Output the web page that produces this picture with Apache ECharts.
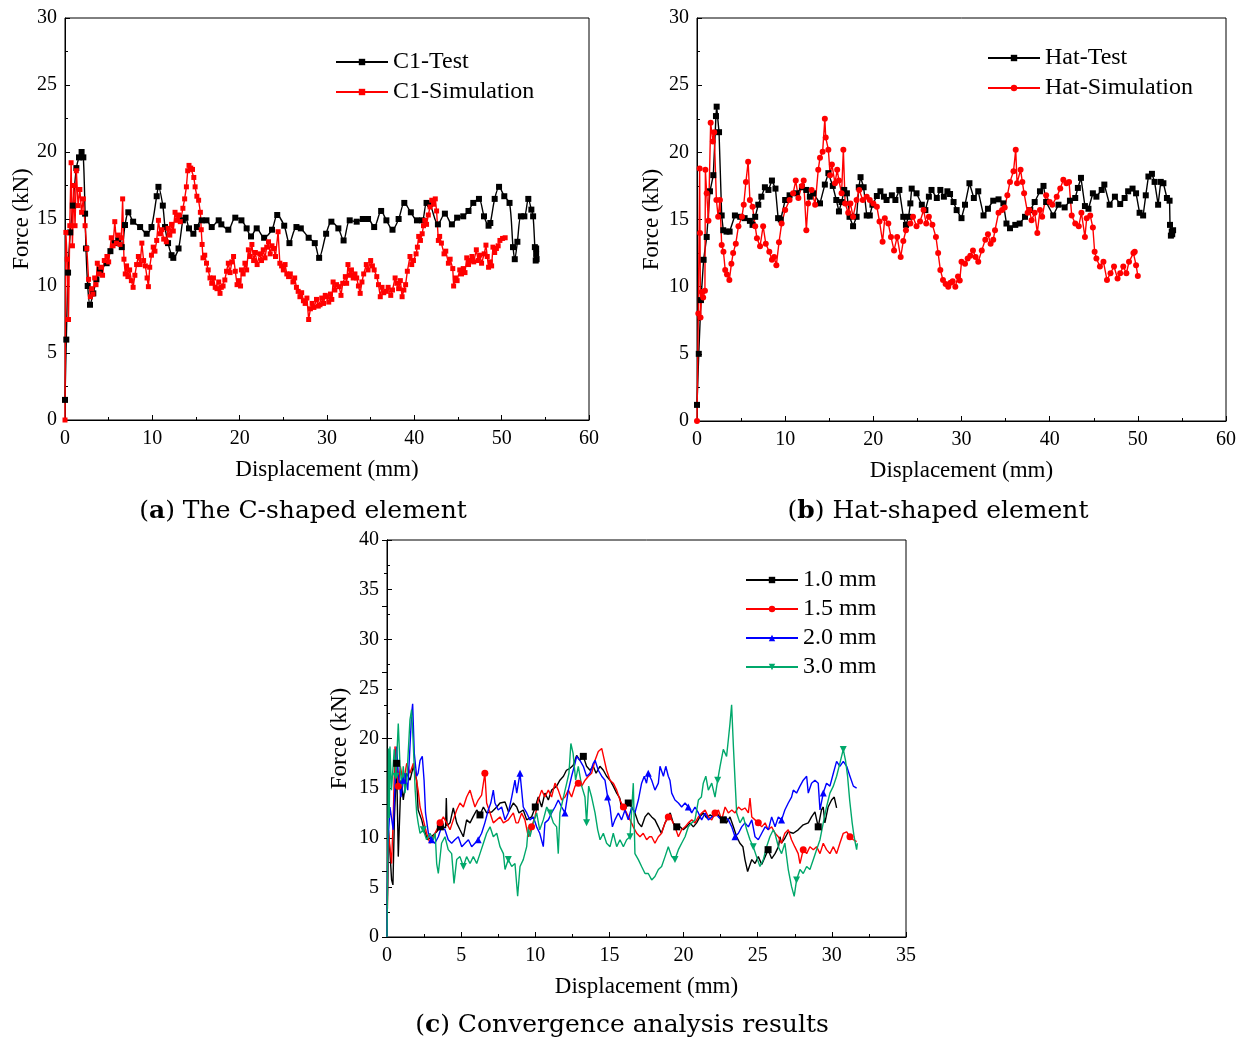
<!DOCTYPE html>
<html>
<head>
<meta charset="utf-8">
<script src="https://cdn.jsdelivr.net/npm/echarts@6/dist/echarts.min.js"></script>
<style>
  html, body { margin: 0; padding: 0; background: #fff; }
  #chart { width: 1245px; height: 1043px; }
</style>
</head>
<body>
<div id="chart"></div>
<script>
// ---- (a) C-shaped element: displacement (mm) vs force (kN)
const c1Test = [[0,1.5],[0.15,6],[0.35,11],[0.6,14],[0.9,16],[1.3,18.8],[1.6,19.6],[1.9,20],[2.1,19.6],[2.3,15.4],[2.4,12.8],[2.6,10],[2.86,8.6],[3.24,9.45],[3.6,10.5],[4.0,11.2],[4.77,11.7],[5.2,12.6],[5.7,13.2],[6.1,13.4],[6.5,12.9],[6.87,14.55],[7.25,15.5],[7.8,14.8],[8.6,14.4],[9.35,13.9],[9.9,14.4],[10.5,16.7],[10.7,17.4],[11.2,16.0],[11.45,14.4],[11.8,13.2],[12.2,12.3],[12.4,12.1],[13.0,12.8],[13.5,14.9],[13.8,15.1],[14.2,14.3],[14.7,13.9],[15.1,14.4],[15.65,14.9],[16.2,14.9],[16.8,14.4],[17.6,14.9],[17.9,14.6],[18.7,14.2],[19.5,15.1],[20.2,14.9],[20.8,14.3],[21.3,13.7],[21.95,14.3],[22.8,13.6],[23.7,14.2],[24.3,15.3],[25.1,14.5],[25.7,13.2],[26.5,14.4],[27.0,14.3],[27.9,13.6],[28.6,13.2],[29.1,12.1],[29.9,13.9],[30.5,14.8],[31.3,14.3],[31.9,13.4],[32.6,14.9],[33.4,14.8],[34.1,15.0],[34.7,15.0],[35.4,14.4],[36.2,15.6],[36.8,14.9],[37.5,14.2],[38.2,15.0],[38.85,16.2],[39.6,15.5],[40.3,14.9],[40.9,14.9],[41.4,16.2],[41.8,16.1],[42.7,14.6],[43.5,15.4],[44.3,14.6],[44.9,15.1],[45.6,15.2],[46.2,15.6],[46.75,16.2],[47.4,16.5],[47.98,15.2],[48.5,14.5],[48.7,14.7],[49.2,16.5],[49.7,17.4],[50.3,16.7],[50.9,16.2],[51.3,12.9],[51.5,12.0],[51.8,13.3],[52.2,15.2],[52.6,15.2],[53.05,16.5],[53.4,15.7],[53.6,15.2],[53.8,12.9],[53.9,11.9],[53.95,12.4],[54.0,12.0],[53.95,12.8]];

const c1Sim = [[0,0],[0.1,14],[0.25,12],[0.4,7.5],[0.55,14.5],[0.7,19.2],[0.85,13],[1.0,17.5],[1.15,14.5],[1.3,18.6],[1.5,16],[1.7,17.2],[1.9,15.5],[2.1,16.5],[2.3,14.5],[2.5,12.8],[2.7,10.5],[2.9,9.2],[3.05,9.8],[3.2,9.4],[3.4,10.6],[3.55,10.1],[3.7,11.7],[3.9,10.9],[4.1,11.4],[4.3,10.8],[4.5,11.9],[4.8,12.2],[5.0,11.8],[5.3,13.6],[5.5,13.0],[5.7,14.8],[5.9,13.2],[6.1,13.8],[6.3,13.1],[6.45,13.6],[6.6,16.5],[6.75,12.0],[6.9,10.9],[7.05,11.5],[7.2,10.7],[7.4,11.2],[7.6,10.4],[7.8,9.9],[8.0,10.8],[8.2,11.6],[8.4,12.2],[8.6,11.6],[8.8,13.2],[9.0,11.9],[9.2,11.5],[9.4,10.6],[9.55,9.95],[9.7,11.4],[9.9,12.3],[10.1,12.9],[10.3,12.6],[10.5,13.4],[10.7,14.9],[10.9,13.9],[11.1,14.2],[11.3,13.5],[11.6,13.3],[11.8,14.3],[12.0,13.8],[12.2,14.6],[12.4,14.1],[12.6,15.5],[12.8,14.9],[13.0,15.3],[13.2,14.8],[13.5,15.8],[13.7,16.5],[13.9,17.4],[14.05,18.6],[14.2,19.0],[14.4,18.8],[14.6,18.7],[14.75,18.1],[14.9,17.4],[15.1,16.7],[15.3,16.4],[15.5,15.5],[15.6,14.2],[15.7,13.1],[15.8,12.1],[16.0,12.3],[16.2,11.7],[16.4,11.2],[16.6,10.6],[16.8,10.2],[17.0,10.6],[17.2,9.9],[17.4,9.8],[17.6,10.3],[17.75,9.45],[17.9,9.9],[18.1,10.0],[18.3,10.45],[18.5,11.1],[18.7,11.7],[18.9,11.0],[19.1,11.8],[19.3,12.2],[19.5,11.1],[19.7,10.1],[19.9,10.4],[20.1,10.0],[20.2,11.2],[20.4,10.9],[20.6,11.7],[20.8,11.2],[21.0,12.7],[21.2,12.2],[21.4,13.1],[21.6,11.9],[21.8,12.5],[22.0,11.6],[22.3,12.4],[22.5,11.9],[22.7,12.7],[22.9,12.1],[23.1,12.9],[23.3,13.3],[23.5,12.4],[23.7,13.0],[23.9,12.8],[24.1,12.2],[24.4,14.05],[24.6,11.7],[24.8,11.5],[25.0,11.2],[25.2,11.6],[25.4,10.9],[25.6,10.7],[25.8,10.9],[26.1,10.3],[26.3,10.6],[26.5,9.9],[26.7,9.6],[26.9,9.2],[27.1,9.5],[27.3,8.9],[27.5,8.7],[27.7,9.1],[27.9,7.5],[28.1,8.3],[28.3,8.7],[28.5,8.4],[28.8,9.0],[29.0,8.5],[29.2,8.6],[29.4,9.1],[29.6,8.7],[29.8,9.3],[30.0,9.2],[30.2,8.8],[30.4,9.4],[30.55,9.0],[30.7,10.3],[30.9,9.7],[31.1,10.1],[31.4,9.95],[31.6,9.3],[31.8,10.2],[32.1,10.7],[32.25,10.2],[32.4,11.6],[32.6,10.8],[32.8,11.2],[33.0,10.6],[33.2,10.9],[33.4,10.6],[33.6,10.0],[33.8,9.45],[34.0,10.3],[34.2,10.9],[34.5,11.6],[34.7,11.2],[35.0,11.9],[35.2,11.5],[35.4,11.2],[35.7,10.7],[35.9,10.1],[36.1,9.2],[36.3,9.9],[36.5,9.5],[36.8,9.6],[37.0,9.9],[37.3,9.3],[37.5,9.7],[37.8,10.6],[38.0,10.2],[38.2,9.8],[38.4,10.4],[38.6,9.2],[38.8,9.7],[39.0,10.1],[39.2,11.1],[39.5,12.2],[39.7,11.6],[39.9,11.9],[40.2,12.4],[40.35,12.9],[40.5,13.7],[40.7,13.4],[40.9,13.9],[41.05,14.5],[41.2,14.9],[41.4,14.6],[41.6,15.3],[41.8,15.9],[42.0,16.4],[42.2,16.1],[42.4,16.5],[42.55,15.6],[42.75,13.4],[42.9,13.7],[43.1,13.2],[43.4,12.4],[43.6,12.6],[43.9,11.7],[44.1,12.0],[44.4,11.3],[44.5,10.0],[44.7,10.6],[44.9,10.4],[45.2,11.2],[45.4,10.9],[45.6,11.3],[45.8,11.0],[46.0,12.1],[46.2,11.6],[46.4,11.9],[46.6,12.2],[46.8,11.8],[47.1,12.7],[47.3,11.9],[47.5,12.3],[47.7,11.7],[48.0,12.4],[48.2,13.05],[48.35,12.2],[48.5,11.4],[48.7,11.8],[48.85,11.5],[49.0,12.9],[49.2,12.5],[49.4,12.8],[49.6,13.0],[49.8,13.4],[50.1,13.55],[50.4,13.6]];

// ---- (b) Hat-shaped element
const hatTest = [[0,1.2],[0.2,5],[0.45,9],[0.75,12],[1.1,13.7],[1.47,17.1],[1.85,18.3],[2.15,22.7],[2.23,23.4],[2.5,21.5],[2.8,15.3],[2.98,14.2],[3.35,14.1],[3.7,14.1],[4.3,15.3],[4.9,15.2],[5.4,15.1],[6.0,14.9],[6.3,14.6],[6.6,15.2],[6.95,16.1],[7.3,16.7],[7.7,17.4],[8.1,17.2],[8.5,17.9],[8.9,17.3],[9.2,15.1],[9.5,15.0],[10.0,16.45],[10.5,16.8],[11.3,16.95],[11.9,17.4],[12.4,17.2],[12.8,16.7],[13.2,16.95],[13.95,16.2],[14.5,17.6],[14.9,18.45],[15.4,17.5],[15.8,16.45],[16.1,15.6],[16.4,16.3],[16.7,17.2],[17.0,16.95],[17.3,15.2],[17.7,14.5],[18.1,15.2],[18.35,17.4],[18.55,18.15],[18.9,17.4],[19.25,15.3],[19.6,15.3],[19.9,16.1],[20.4,16.75],[20.8,17.1],[21.2,16.7],[21.5,16.45],[22.1,16.8],[22.5,16.45],[22.95,17.2],[23.4,15.2],[23.7,14.6],[24.0,15.2],[24.2,16.2],[24.35,17.3],[24.9,16.95],[25.5,16.1],[25.9,15.7],[26.3,16.7],[26.6,17.2],[27.2,16.6],[27.6,17.2],[28.0,16.7],[28.4,17.1],[28.7,16.9],[29.1,16.3],[29.45,15.7],[30.0,15.1],[30.4,16.1],[30.9,17.7],[31.4,16.6],[31.9,17.1],[32.5,15.3],[33.0,15.8],[33.6,16.4],[34.2,16.5],[34.75,16.2],[35.1,14.7],[35.5,14.35],[36.1,14.6],[36.6,14.7],[37.2,15.2],[37.8,15.7],[38.3,16.3],[38.9,17.1],[39.3,17.5],[39.6,16.3],[40.4,15.3],[41.0,16.1],[41.7,15.9],[42.3,16.4],[42.9,16.6],[43.2,17.35],[43.55,18.1],[44.0,16.0],[44.4,15.8],[44.9,16.95],[45.3,16.7],[45.9,17.2],[46.2,17.6],[46.8,16.1],[47.4,16.7],[48.0,16.15],[48.5,16.6],[48.9,17.1],[49.4,17.3],[49.8,16.95],[50.2,15.5],[50.6,15.3],[50.9,16.8],[51.2,18.2],[51.6,18.4],[51.9,17.8],[52.3,16.1],[52.6,17.8],[52.9,17.7],[53.3,16.6],[53.6,16.4],[53.65,14.6],[53.75,13.8],[53.85,14.1],[53.9,13.9],[54.0,14.2]];

const hatSim = [[0,0],[0.15,8],[0.3,18.8],[0.34,14],[0.4,7.7],[0.53,9.6],[0.7,9.2],[0.9,9.7],[0.95,18.7],[1.1,16.95],[1.3,14.9],[1.55,22.2],[1.8,20.8],[1.95,21.5],[2.2,16.45],[2.4,15.2],[2.6,16.45],[2.8,13.1],[3.0,12.6],[3.2,11.25],[3.4,10.9],[3.67,10.5],[3.9,11.7],[4.1,12.5],[4.4,13.2],[4.7,14.5],[5.1,15.2],[5.3,16.1],[5.55,17.8],[5.8,19.3],[6.0,16.45],[6.3,15.95],[6.6,14.5],[6.8,13.6],[7.15,13.0],[7.5,14.5],[7.8,13.2],[8.2,12.6],[8.5,12.0],[8.75,12.2],[9.0,11.6],[9.3,13.3],[9.6,14.7],[10.0,15.7],[10.5,16.45],[10.9,16.95],[11.2,17.9],[11.5,16.6],[11.9,17.5],[12.1,17.9],[12.4,14.2],[12.6,16.2],[13.0,17.2],[13.4,16.1],[13.75,18.7],[13.95,19.6],[14.25,20.05],[14.5,22.5],[14.6,21.1],[14.9,20.2],[15.1,18.3],[15.3,19.1],[15.65,17.7],[15.9,18.7],[16.1,17.9],[16.4,16.95],[16.6,20.2],[16.8,16.2],[17.15,15.5],[17.4,16.2],[17.7,15.2],[18.1,16.45],[18.4,17.2],[18.8,16.45],[19.25,16.7],[19.6,16.45],[20.0,16.2],[20.4,15.95],[20.7,14.85],[21.05,13.35],[21.3,15.1],[21.7,14.7],[22.0,13.7],[22.35,12.7],[22.7,13.7],[23.1,12.2],[23.4,13.4],[23.7,14.2],[24.2,14.7],[24.5,15.2],[24.9,14.5],[25.3,14.85],[25.7,15.7],[26.0,14.7],[26.3,15.2],[26.7,14.6],[27.1,13.7],[27.35,12.5],[27.6,11.25],[27.9,10.5],[28.2,10.2],[28.5,10.0],[28.75,10.3],[29.0,10.4],[29.3,10.0],[29.6,10.75],[29.8,10.45],[30.0,11.85],[30.4,11.7],[30.7,12.1],[31.0,12.3],[31.3,12.7],[31.6,12.2],[31.9,11.85],[32.3,12.7],[32.7,13.5],[33.0,13.9],[33.3,13.2],[33.6,13.5],[33.8,14.2],[34.2,15.5],[34.6,15.7],[34.9,15.9],[35.2,16.8],[35.5,17.8],[35.9,18.6],[36.15,20.2],[36.3,17.7],[36.7,18.7],[36.9,17.8],[37.1,16.95],[37.5,15.5],[37.7,15.7],[37.95,14.95],[38.3,15.5],[38.6,14.0],[38.9,15.7],[39.15,15.2],[39.6,16.8],[40.0,16.3],[40.3,16.1],[40.8,16.7],[41.2,17.3],[41.55,17.95],[41.9,17.7],[42.2,17.8],[42.5,15.3],[42.9,14.7],[43.3,14.5],[43.6,15.5],[44.0,13.7],[44.2,15.1],[44.6,15.3],[44.9,14.4],[45.1,12.6],[45.3,12.1],[45.7,11.5],[46.1,11.85],[46.5,10.5],[46.9,11.0],[47.3,11.5],[47.7,10.6],[48.0,11.0],[48.35,11.5],[48.7,11.0],[49.0,11.85],[49.5,12.5],[49.65,12.6],[49.8,11.6],[50.0,10.8]];

// ---- (c) Convergence study: mesh sizes
const mesh10 = [[0,0],[0.05,6],[0.09,10.8],[0.2,8.5],[0.31,5.75],[0.4,5.25],[0.5,12],[0.65,17.5],[0.76,8.1],[0.94,15.8],[1.1,13.8],[1.33,16.5],[1.55,15.8],[1.78,17.2],[2.0,15.8],[2.1,12.8],[2.34,11.8],[2.5,10.8],[2.74,9.8],[3.0,10.1],[3.35,10.6],[3.6,11.1],[3.8,11.1],[3.95,11.0],[4.0,14.0],[4.05,11.2],[4.25,11.5],[4.47,13.0],[4.7,11.5],[4.92,10.8],[5.15,10.1],[5.37,11.8],[5.6,11.5],[5.8,12.1],[6.05,12.8],[6.27,12.3],[6.5,13.1],[6.72,12.5],[7.06,12.6],[7.4,13.1],[7.62,13.5],[7.96,13.6],[8.2,12.6],[8.52,13.5],[8.75,13.1],[8.9,12.5],[9.19,12.8],[9.42,11.8],[9.75,12.1],[10.0,13.1],[10.2,14.1],[10.43,13.1],[10.65,14.5],[10.88,13.8],[11.1,14.8],[11.44,15.2],[11.66,15.8],[11.9,16.2],[12.1,16.8],[12.34,17.0],[12.56,17.3],[12.79,18.3],[13.0,17.8],[13.24,18.2],[13.46,17.2],[13.69,16.8],[13.91,17.2],[14.1,16.5],[14.36,17.2],[14.59,16.8],[14.81,16.2],[15.04,15.8],[15.26,15.2],[15.49,14.5],[15.7,14.0],[15.8,13.1],[16.05,12.8],[16.27,13.5],[16.5,13.1],[16.72,12.5],[16.95,11.5],[17.17,11.1],[17.4,12.1],[17.62,12.5],[17.85,12.1],[18.07,11.8],[18.3,11.1],[18.5,10.45],[18.75,11.5],[19.1,12.5],[19.3,11.5],[19.54,11.1],[19.76,11.1],[19.98,10.8],[20.2,11.1],[20.43,11.5],[20.66,11.1],[20.88,11.5],[21.1,12.1],[21.33,12.5],[21.55,12.0],[21.78,12.3],[22.0,12.1],[22.23,12.5],[22.45,12.1],[22.68,11.8],[22.9,11.5],[23.13,12.1],[23.36,11.1],[23.58,10.1],[23.8,9.45],[24.0,9.1],[24.14,7.8],[24.32,6.6],[24.6,7.8],[24.82,7.4],[25.04,8.1],[25.27,7.3],[25.5,8.1],[25.7,8.8],[25.94,7.9],[26.17,8.4],[26.4,9.1],[26.5,10.1],[26.6,9.45],[26.83,9.95],[27.06,10.6],[27.4,10.45],[27.73,10.8],[28.07,11.3],[28.41,11.5],[28.63,12.1],[28.86,12.6],[29.08,11.1],[29.3,12.8],[29.42,13.1],[29.53,11.5],[29.75,13.1],[29.98,13.8],[30.16,14.1],[30.32,13.0]];

const mesh15 = [[0,0],[0.09,10.8],[0.2,9],[0.31,7.4],[0.42,12],[0.54,19.2],[0.65,17.5],[0.76,15.2],[0.9,17.2],[1.1,15.5],[1.33,17.5],[1.55,16.5],[1.78,17.5],[1.9,16.5],[2.1,14.8],[2.23,13.1],[2.45,11.8],[2.67,10.45],[2.9,9.45],[3.12,10.1],[3.35,10.8],[3.58,11.5],[3.8,12.1],[4.02,11.5],[4.25,10.8],[4.47,11.8],[4.7,12.8],[4.92,13.5],[5.15,13.1],[5.37,14.1],[5.6,14.8],[5.75,14.0],[5.93,13.1],[6.15,13.8],[6.38,14.3],[6.6,16.5],[6.72,13.5],[6.95,12.5],[7.17,11.5],[7.4,11.8],[7.62,12.1],[7.85,11.5],[8.18,11.8],[8.52,12.5],[8.7,11.5],[8.85,11.5],[9.08,12.5],[9.3,11.8],[9.53,10.1],[9.75,11.1],[9.98,12.1],[10.2,13.8],[10.43,14.8],[10.65,14.1],[10.88,14.8],[11.1,14.1],[11.33,15.5],[11.55,14.8],[11.78,13.8],[12.0,14.1],[12.23,14.8],[12.45,14.1],[12.68,15.2],[12.9,15.5],[13.13,15.2],[13.36,15.8],[13.58,16.2],[13.8,16.5],[14.03,17.8],[14.25,18.7],[14.48,19.0],[14.6,18.2],[14.81,16.8],[15.04,15.8],[15.26,15.5],[15.49,14.8],[15.71,13.8],[15.94,13.1],[16.16,12.5],[16.39,11.8],[16.61,11.1],[16.84,10.45],[17.06,10.1],[17.28,10.45],[17.51,9.8],[17.7,10.1],[17.85,10.1],[18.07,9.45],[18.3,10.1],[18.52,10.45],[18.75,11.5],[18.97,12.1],[19.2,11.8],[19.42,11.1],[19.65,10.1],[19.87,10.8],[20.1,11.1],[20.32,11.5],[20.55,11.8],[20.77,11.5],[21.0,12.1],[21.22,12.5],[21.45,12.8],[21.67,12.1],[21.9,11.8],[22.12,12.5],[22.35,12.8],[22.57,11.8],[22.8,13.1],[23.02,12.5],[23.25,12.8],[23.47,12.5],[23.7,13.1],[23.92,12.8],[24.14,13.0],[24.37,12.5],[24.48,14.0],[24.6,12.1],[24.82,11.8],[25.04,11.5],[25.27,11.1],[25.5,11.5],[25.7,10.8],[25.94,11.1],[26.17,10.45],[26.39,10.1],[26.6,9.45],[26.83,10.45],[27.06,10.8],[27.28,9.8],[27.5,9.1],[27.73,8.4],[27.85,7.4],[28.07,8.8],[28.3,8.4],[28.52,9.1],[28.75,8.8],[28.97,9.1],[29.2,8.4],[29.42,9.45],[29.64,8.8],[29.87,8.4],[30.1,9.1],[30.32,8.4],[30.54,9.45],[30.77,10.45],[31.0,10.6],[31.22,10.1],[31.45,9.8],[31.67,9.6]];

const mesh20 = [[0,0],[0.05,9],[0.2,13.1],[0.42,10.8],[0.65,19.2],[0.76,16.5],[0.94,14.1],[1.1,15.8],[1.21,16.5],[1.4,14.8],[1.55,19.2],[1.66,22.5],[1.73,23.5],[1.84,18.5],[2.0,16.2],[2.1,16.5],[2.23,17.8],[2.38,18.2],[2.5,15.8],[2.6,12.5],[2.79,10.45],[3.0,9.8],[3.23,9.45],[3.46,10.1],[3.68,11.1],[3.91,10.8],[4.13,9.8],[4.36,9.45],[4.58,9.8],[4.81,10.1],[5.04,9.1],[5.26,9.45],[5.49,9.8],[5.71,9.1],[5.93,9.45],[6.15,9.8],[6.38,10.45],[6.6,11.5],[6.83,12.8],[7.0,13.5],[7.17,14.8],[7.28,13.5],[7.5,12.8],[7.73,13.1],[7.96,11.8],[8.18,12.5],[8.41,14.1],[8.63,15.8],[8.75,14.5],[8.97,16.5],[9.19,13.1],[9.42,12.5],[9.64,11.8],[9.87,12.1],[10.09,11.1],[10.3,10.45],[10.54,9.1],[10.65,11.5],[10.88,11.8],[11.1,12.5],[11.33,13.1],[11.55,13.8],[11.78,13.1],[12.0,12.5],[12.23,14.8],[12.45,16.2],[12.68,17.5],[12.79,18.2],[13.01,17.8],[13.24,17.2],[13.46,16.2],[13.69,16.5],[13.91,17.5],[14.03,17.8],[14.25,16.8],[14.48,16.2],[14.7,15.8],[14.88,14.1],[15.04,13.1],[15.2,11.1],[15.37,11.8],[15.6,12.5],[15.82,11.8],[16.05,12.8],[16.27,11.8],[16.5,13.1],[16.72,12.5],[16.95,13.8],[17.17,15.5],[17.35,16.2],[17.5,15.5],[17.62,16.5],[17.85,15.8],[18.07,14.8],[18.3,15.5],[18.41,17.2],[18.64,16.2],[18.8,17.2],[18.97,16.2],[19.08,15.8],[19.2,14.5],[19.42,13.8],[19.65,13.5],[19.87,13.1],[20.1,13.5],[20.32,13.1],[20.55,12.5],[20.77,13.1],[21.0,12.5],[21.22,11.8],[21.45,12.5],[21.67,11.8],[21.9,12.1],[22.12,12.5],[22.35,12.1],[22.57,11.8],[22.8,12.1],[23.02,11.8],[23.25,11.1],[23.47,10.1],[23.7,10.45],[23.92,11.1],[24.14,11.5],[24.37,11.1],[24.6,11.8],[24.82,10.1],[25.04,9.8],[25.27,10.45],[25.5,11.1],[25.72,10.8],[25.94,12.1],[26.17,11.1],[26.39,12.1],[26.61,11.8],[26.83,12.8],[27.06,13.5],[27.28,14.1],[27.4,14.8],[27.62,14.5],[27.85,15.2],[28.07,15.8],[28.3,16.2],[28.41,14.5],[28.63,15.5],[28.86,15.8],[29.08,15.5],[29.2,12.8],[29.42,14.5],[29.64,15.5],[29.87,15.2],[30.1,16.5],[30.32,17.7],[30.54,17.2],[30.77,17.7],[31.0,17.2],[31.22,16.2],[31.45,15.2],[31.67,15.0]];

const mesh30 = [[0,0],[0.05,8],[0.1,19],[0.15,12],[0.2,19.2],[0.3,14.8],[0.49,18.9],[0.6,16.2],[0.76,21.5],[0.88,17.2],[0.99,15.2],[1.1,17.2],[1.21,14.5],[1.33,15.8],[1.55,21.9],[1.66,22.9],[1.78,19.2],[1.9,14.8],[2.0,12.5],[2.1,11.5],[2.23,10.45],[2.45,10.8],[2.67,9.8],[2.9,10.45],[3.12,9.8],[3.25,10.45],[3.35,7.4],[3.46,6.4],[3.68,9.45],[3.91,10.1],[4.13,8.8],[4.36,8.4],[4.52,5.4],[4.7,7.8],[4.92,8.1],[5.15,7.1],[5.37,8.1],[5.6,7.4],[5.82,8.1],[6.05,7.4],[6.27,8.4],[6.5,9.45],[6.72,10.45],[6.95,11.1],[7.17,10.1],[7.4,10.45],[7.62,9.1],[7.85,8.4],[7.96,6.8],[8.18,7.8],[8.41,7.1],[8.63,7.4],[8.81,4.1],[8.97,7.1],[9.19,7.8],[9.42,9.1],[9.53,11.1],[9.64,10.1],[9.87,11.5],[10.09,12.5],[10.3,10.8],[10.54,11.8],[10.77,13.1],[11.0,12.5],[11.22,11.5],[11.44,11.1],[11.55,8.4],[11.66,12.5],[11.9,14.1],[12.12,15.5],[12.27,16.5],[12.4,19.5],[12.55,18.5],[12.72,15.8],[12.9,17.2],[13.13,15.2],[13.35,14.1],[13.46,11.5],[13.6,15.2],[13.8,14.1],[14.03,12.5],[14.21,10.8],[14.37,9.8],[14.59,10.45],[14.81,9.45],[15.04,9.1],[15.26,10.45],[15.49,9.1],[15.71,9.8],[15.94,9.1],[16.16,9.8],[16.39,10.1],[16.61,15.5],[16.72,8.4],[16.95,7.8],[17.17,7.1],[17.4,6.4],[17.62,6.4],[17.85,5.75],[18.07,6.1],[18.3,6.8],[18.52,7.1],[18.75,8.1],[18.97,9.1],[19.2,8.1],[19.42,7.8],[19.65,8.8],[19.87,9.45],[20.1,10.1],[20.32,11.1],[20.55,11.5],[20.77,11.8],[21.0,13.8],[21.2,14.1],[21.33,15.5],[21.5,16.2],[21.67,14.8],[21.9,15.5],[22.12,14.1],[22.3,15.8],[22.46,17.2],[22.68,18.9],[22.9,18.2],[23.02,19.9],[23.13,21.5],[23.24,23.4],[23.36,19.2],[23.47,15.8],[23.58,12.5],[23.8,11.5],[24.03,12.1],[24.26,10.8],[24.48,9.8],[24.7,9.1],[24.92,8.1],[25.15,7.1],[25.38,7.8],[25.6,9.1],[25.82,10.1],[26.05,10.8],[26.16,10.45],[26.39,9.1],[26.61,8.4],[26.83,9.45],[27.06,6.8],[27.28,5.1],[27.46,4.1],[27.62,5.75],[27.85,6.8],[28.07,6.4],[28.3,7.1],[28.52,6.8],[28.75,7.8],[28.97,8.8],[29.2,9.8],[29.42,11.5],[29.64,13.1],[29.87,14.5],[30.1,15.2],[30.32,16.2],[30.54,17.5],[30.77,18.9],[30.92,17.8],[31.06,16.2],[31.2,13.8],[31.37,11.5],[31.5,10.1],[31.67,8.8],[31.72,9.45]];

// Axis ranges and labels
const xRangeAB = { min: 0, max: 60, interval: 10 };
const yRangeAB = { min: 0, max: 30, interval: 5 };
const xRangeC = { min: 0, max: 35, interval: 5 };
const yRangeC = { min: 0, max: 40, interval: 5 };
const xTitle = 'Displacement (mm)';
const yTitle = 'Force (kN)';
const captions = [
  { text: '({b|a}) The C-shaped element', x: 303, y: 511 },
  { text: '({b|b}) Hat-shaped element', x: 938, y: 511 },
  { text: '({b|c}) Convergence analysis results', x: 622, y: 1025 }
];

const SERIF = '"Liberation Serif", "Times New Roman", serif';
const CAPTION_FONT = '"DejaVu Serif", serif';

function xAxisFor(gridIndex, range, gap) {
  return {
    type: 'value', gridIndex, min: range.min, max: range.max, interval: range.interval,
    name: xTitle, nameLocation: 'middle', nameGap: gap,
    nameTextStyle: { fontFamily: SERIF, fontSize: 23, color: '#000' },
    axisLine: { show: true, onZero: false, lineStyle: { color: '#000', width: 1 } },
    axisTick: { show: true, inside: true, length: 5, lineStyle: { color: '#000' } },
    minorTick: { show: true, splitNumber: 2, length: 3, lineStyle: { color: '#000' } },
    axisLabel: { fontFamily: SERIF, fontSize: 20, color: '#000', margin: 9 },
    splitLine: { show: false }
  };
}
function yAxisFor(gridIndex, range, gap) {
  return {
    type: 'value', gridIndex, min: range.min, max: range.max, interval: range.interval,
    name: yTitle, nameLocation: 'middle', nameGap: gap, nameRotate: 90,
    nameTextStyle: { fontFamily: SERIF, fontSize: 23, color: '#000' },
    axisLine: { show: true, onZero: false, lineStyle: { color: '#000', width: 1 } },
    axisTick: { show: true, inside: true, length: 5, lineStyle: { color: '#000' } },
    minorTick: { show: true, splitNumber: 2, length: 3, lineStyle: { color: '#000' } },
    axisLabel: { fontFamily: SERIF, fontSize: 20, color: '#000', margin: 8 },
    splitLine: { show: false }
  };
}

function lineSeries(name, data, color, symbol, opts) {
  return Object.assign({
    type: 'line', name, data, symbol, symbolSize: 5,
    showSymbol: true, showAllSymbol: true,
    lineStyle: { color, width: 1.4 },
    itemStyle: { color },
    emphasis: { disabled: true },
    animation: false
  }, opts || {});
}

// sparse markers for the convergence curves
const sparse = (v, p) => (p.dataIndex % 14 === 7 ? 7 : 0);

const legendText = { fontFamily: SERIF, fontSize: 24, color: '#000' };

const option = {
  backgroundColor: '#fff',
  animation: false,
  grid: [
    { left: 65, top: 18, width: 524, height: 402, show: true, borderColor: '#000', borderWidth: 1 },
    { left: 697, top: 18, width: 529, height: 403, show: true, borderColor: '#000', borderWidth: 1 },
    { left: 387, top: 540, width: 519, height: 397, show: true, borderColor: '#000', borderWidth: 1 }
  ],
  xAxis: [
    xAxisFor(0, xRangeAB, 38),
    xAxisFor(1, xRangeAB, 38),
    xAxisFor(2, xRangeC, 38)
  ],
  yAxis: [
    yAxisFor(0, yRangeAB, 32),
    yAxisFor(1, yRangeAB, 34),
    yAxisFor(2, yRangeC, 36),
    {
      type: 'value', gridIndex: 2, position: 'right', min: 0, max: 40, interval: 40 / 6,
      axisLine: { show: true, lineStyle: { color: '#000' } },
      axisTick: { show: true, inside: true, length: 5, lineStyle: { color: '#000' } },
      minorTick: { show: true, splitNumber: 2, length: 3, lineStyle: { color: '#000' } },
      axisLabel: { show: false }, splitLine: { show: false }
    }
  ],
  legend: [
    { data: ['C1-Test', 'C1-Simulation'], orient: 'vertical', left: 335, top: 50, padding: 0,
      itemWidth: 52, itemHeight: 8, itemGap: 6, textStyle: legendText },
    { data: ['Hat-Test', 'Hat-Simulation'], orient: 'vertical', left: 987, top: 46, padding: 0,
      itemWidth: 52, itemHeight: 8, itemGap: 6, textStyle: legendText },
    { data: ['1.0 mm', '1.5 mm', '2.0 mm', '3.0 mm'], orient: 'vertical', left: 745, top: 568, padding: 0,
      itemWidth: 52, itemHeight: 8, itemGap: 5, textStyle: legendText }
  ],
  series: [
    lineSeries('C1-Test', c1Test, '#000000', 'rect', { xAxisIndex: 0, yAxisIndex: 0, symbolSize: 6, smooth: 0.3 }),
    lineSeries('C1-Simulation', c1Sim, '#ff0000', 'rect', { xAxisIndex: 0, yAxisIndex: 0, symbolSize: 5 }),
    lineSeries('Hat-Test', hatTest, '#000000', 'rect', { xAxisIndex: 1, yAxisIndex: 1, symbolSize: 6 }),
    lineSeries('Hat-Simulation', hatSim, '#ff0000', 'circle', { xAxisIndex: 1, yAxisIndex: 1, symbolSize: 6 }),
    lineSeries('1.0 mm', mesh10, '#000000', 'rect', { xAxisIndex: 2, yAxisIndex: 2, symbolSize: sparse }),
    lineSeries('1.5 mm', mesh15, '#ff0000', 'circle', { xAxisIndex: 2, yAxisIndex: 2, symbolSize: sparse }),
    lineSeries('2.0 mm', mesh20, '#0000ff', 'triangle', { xAxisIndex: 2, yAxisIndex: 2, symbolSize: sparse }),
    lineSeries('3.0 mm', mesh30, '#00a86b', 'triangle', { xAxisIndex: 2, yAxisIndex: 2, symbolSize: sparse, symbolRotate: 180 })
  ],
  graphic: captions.map(c => ({
    type: 'text', x: c.x, y: c.y,
    style: {
      text: c.text, fontFamily: CAPTION_FONT, fontSize: 25, fill: '#000',
      align: 'center', verticalAlign: 'middle',
      rich: { b: { fontFamily: CAPTION_FONT, fontSize: 25, fontWeight: 'bold', fill: '#000' } }
    }
  }))
};

const chart = echarts.init(document.getElementById('chart'), null, { renderer: 'canvas' });
chart.setOption(option);
</script>
</body>
</html>
